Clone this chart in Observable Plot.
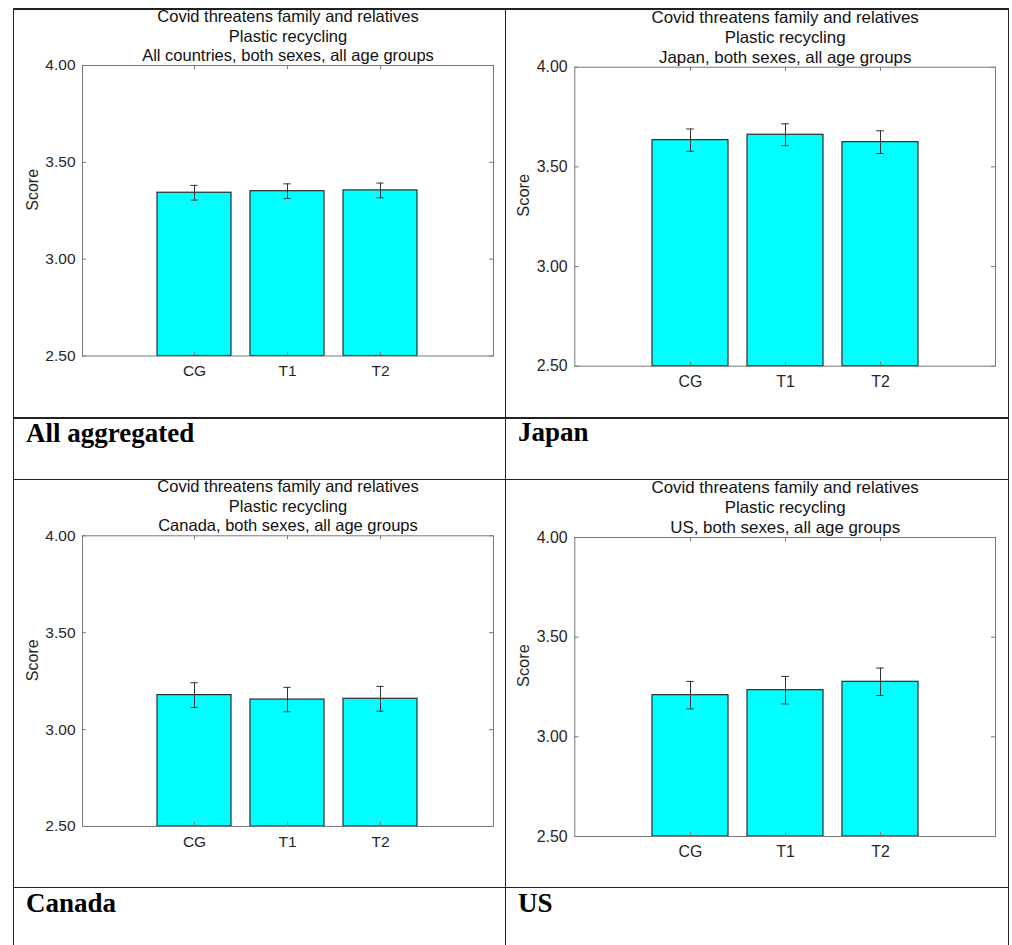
<!DOCTYPE html>
<html><head><meta charset="utf-8">
<script src="https://cdn.jsdelivr.net/npm/d3@7"></script>
<script src="https://cdn.jsdelivr.net/npm/@observablehq/plot@0.6"></script>
<style>
html,body{margin:0;padding:0;background:#fff;}
body{width:1012px;height:945px;position:relative;overflow:hidden;font-family:"Liberation Sans",Arial,sans-serif;}
.ln{position:absolute;background:#222;}
.cell{position:absolute;}
.cell svg{display:block;}
.lab{position:absolute;font-family:"Liberation Serif","Times New Roman",serif;font-weight:bold;font-size:27px;line-height:27px;color:#000;white-space:nowrap;}
</style></head><body>
<script>
// ---- data ----
const groups = ["CG", "T1", "T2"];
const panelNames = ["All aggregated", "Japan", "Canada", "US"];
const titleLine1 = "Covid threatens family and relatives";
const titleLine2 = "Plastic recycling";
const subtitles = [
  "All countries, both sexes, all age groups",
  "Japan, both sexes, all age groups",
  "Canada, both sexes, all age groups",
  "US, both sexes, all age groups"
];
const meansAll = [3.343, 3.351, 3.355];
const errAll = [0.038, 0.038, 0.038];
const meansJapan = [3.634, 3.661, 3.624];
const errJapan = [0.056, 0.055, 0.057];
const meansCanada = [3.178, 3.155, 3.159];
const errCanada = [0.064, 0.063, 0.064];
const meansUS = [3.209, 3.234, 3.276];
const errUS = [0.069, 0.069, 0.069];
const yTicks = [2.5, 3, 3.5, 4];
const yDomain = [2.5, 4];
const yLabel = "Score";

// ---- layout (page pixels) ----
const layout = [
  {left: 14, top: 9, width: 491, height: 408, mL: 68, mR: 12, mT: 56, mB: 61.5, s: 1, labelX: 26, labelBase: 443},
  {left: 506, top: 9, width: 501, height: 408, mL: 68.3, mR: 12, mT: 57.7, mB: 51.3, s: 1.024, labelX: 518, labelBase: 442},
  {left: 14, top: 480, width: 491, height: 406, mL: 68, mR: 12, mT: 55.3, mB: 60, s: 1, labelX: 26, labelBase: 913},
  {left: 506, top: 480, width: 501, height: 406, mL: 68.3, mR: 12, mT: 57, mB: 50, s: 1.024, labelX: 518, labelBase: 913}
];
const series = [[meansAll, errAll], [meansJapan, errJapan], [meansCanada, errCanada], [meansUS, errUS]];
const sans = '"Liberation Sans", Arial, sans-serif';

function panel(i) {
  const L = layout[i];
  const [means, errs] = series[i];
  const data = groups.map((g, j) => ({group: g, mean: means[j], lo: means[j] - errs[j], hi: means[j] + errs[j]}));
  const fw = L.width - L.mL - L.mR, fh = L.height - L.mT - L.mB;
  const step = fw / 4.4, bw = step * 0.8, capW = 8 * L.s, tk = 4 * L.s;
  const fs = 15.5 * L.s, tfs = 16.5 * L.s, lfs = 16 * L.s;
  const capInset = (bw - capW) / 2;
  return Plot.plot({
    width: L.width, height: L.height,
    marginLeft: L.mL, marginRight: L.mR, marginTop: L.mT, marginBottom: L.mB,
    style: {fontFamily: sans, fontSize: fs + "px", color: "#262626", background: "transparent", overflow: "visible"},
    x: {type: "band", domain: groups, paddingInner: 0.2, paddingOuter: 0.8, align: 0.5, label: null},
    y: {domain: yDomain, label: null},
    marks: [
      Plot.barY(data, {x: "group", y1: yDomain[0], y2: "mean", fill: "#00ffff", stroke: "#2a2a2a", strokeWidth: 1.2}),
      Plot.frame({stroke: "#7a7a7a", strokeWidth: 1}),
      Plot.tickX(groups, {x: d => d, stroke: "#7a7a7a", insetBottom: fh - tk}),
      Plot.tickX(groups, {x: d => d, stroke: "#7a7a7a", insetTop: fh - tk}),
      Plot.tickY(yTicks, {y: d => d, stroke: "#7a7a7a", insetRight: fw - tk}),
      Plot.tickY(yTicks, {y: d => d, stroke: "#7a7a7a", insetLeft: fw - tk}),
      Plot.ruleX(data, {x: "group", y1: "lo", y2: "hi", stroke: "#333", strokeWidth: 1}),
      Plot.tickY(data, {x: "group", y: "lo", stroke: "#333", strokeWidth: 1, insetLeft: capInset, insetRight: capInset}),
      Plot.tickY(data, {x: "group", y: "hi", stroke: "#333", strokeWidth: 1, insetLeft: capInset, insetRight: capInset}),
      Plot.axisY({ticks: yTicks, tickFormat: d3.format(".2f"), tickSize: 0, tickPadding: 7 * L.s, label: null, fontSize: fs, fontFamily: sans, fill: "#262626"}),
      Plot.axisX({tickSize: 0, tickPadding: 9 * L.s, label: null, fontSize: fs, fontFamily: sans, fill: "#262626"}),
      Plot.text([yLabel], {frameAnchor: "left", rotate: -90, dx: -50 * L.s, lineAnchor: "middle", fontSize: lfs, fontFamily: sans, fill: "#262626"}),
      Plot.text([[titleLine1, titleLine2, subtitles[i]].join("\n")], {frameAnchor: "top", lineAnchor: "bottom", dy: -4.5 * L.s, fontSize: tfs, fontFamily: sans, lineHeight: 1.18, fill: "#111"})
    ]
  });
}

// table lines
function line(x, y, w, h) {
  const d = document.createElement("div");
  d.className = "ln";
  Object.assign(d.style, {left: x + "px", top: y + "px", width: w + "px", height: h + "px"});
  document.body.appendChild(d);
}
const lw = 1.5;
line(13, 8, 996, lw);          // top
line(13, 417, 996, lw);        // under row-1 charts
line(13, 478.5, 996, lw);      // between rows
line(13, 886.5, 996, lw);      // under row-2 charts
line(12.5, 8, lw, 937);        // left
line(504.5, 8, lw, 937);       // middle
line(1007.5, 8, lw, 937);      // right

layout.forEach((L, i) => {
  const c = document.createElement("div");
  c.className = "cell";
  Object.assign(c.style, {left: L.left + "px", top: L.top + "px", width: L.width + "px", height: L.height + "px"});
  c.appendChild(panel(i));
  document.body.appendChild(c);
  const lab = document.createElement("div");
  lab.className = "lab";
  lab.textContent = panelNames[i];
  Object.assign(lab.style, {left: L.labelX + "px", top: (L.labelBase - 22.6) + "px"});
  document.body.appendChild(lab);
});
</script>
</body></html>
